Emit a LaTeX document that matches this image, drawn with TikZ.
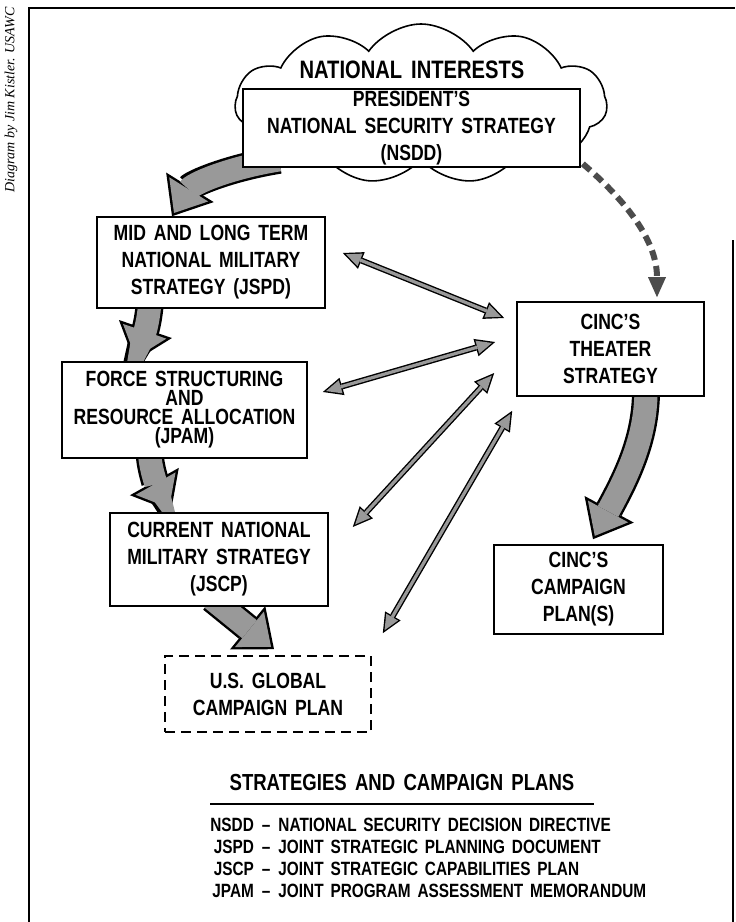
\documentclass[tikz,border=0pt]{standalone}
\usepackage{fontspec}
\setmainfont{Liberation Sans}[FakeStretch=0.8, WordSpace=1.6]
\newfontfamily\creditfont{Liberation Serif}
\usetikzlibrary{shapes.symbols, arrows.meta}
\pgfdeclarelayer{cloudlayer}
\pgfdeclarelayer{back}
\pgfsetlayers{cloudlayer,back,main}
\tikzstyle{block} = [rectangle, draw, line width=0.8pt, fill=white, align=center, inner sep=0pt, font=\bfseries\fontsize{11}{13.5}\selectfont]
\tikzstyle{dblock} = [block, dash pattern=on 5pt off 3pt]
\tikzstyle{fatout} = [draw=black, line width=14pt, -{Triangle[width=28pt,length=17pt,line width=0pt]}]
\tikzstyle{fatin} = [draw=black!40, line width=11.6pt, shorten >=1.9pt, -{Triangle[width=22.9pt,length=13.9pt,line width=0pt]}]
\tikzstyle{thinout} = [draw=black, line width=3pt, {Triangle[width=9pt,length=10pt,line width=0pt]}-{Triangle[width=9pt,length=10pt,line width=0pt]}]
\tikzstyle{thinin} = [draw=black!40, line width=1.6pt, shorten <=1.7pt, shorten >=1.7pt, {Triangle[width=6.8pt,length=7.6pt,line width=0pt]}-{Triangle[width=6.8pt,length=7.6pt,line width=0pt]}]
\tikzstyle{dashline} = [draw=black!70, line width=3pt, dash pattern=on 5pt off 3pt, -{Triangle[width=9pt,length=10pt,line width=0pt]}]

\begin{document}
\begin{tikzpicture}[x=0.5pt, y=-0.5pt]
\useasboundingbox (0,0) rectangle (735,922);

\draw[line width=1.2pt] (29,922) -- (29,8) -- (735,8);
\draw[line width=1.2pt] (733,240) -- (733,922);
\node[rotate=90, font=\creditfont\itshape\fontsize{7}{8}\selectfont] (credit) at (11,100) {Diagram by Jim Kistler. USAWC};

\begin{pgfonlayer}{cloudlayer}
\node[cloud, draw, line width=0.8pt, fill=white, cloud puffs=11, cloud puff arc=110, aspect=2.3, minimum width=186pt, minimum height=80pt] (cloud) at (421,104) {};
\end{pgfonlayer}
\node[font=\bfseries\fontsize{12.6}{14}\selectfont] (interests) at (412,70) {NATIONAL INTERESTS};

\node[block, minimum width=168.5pt, minimum height=39pt] (pres) at (411.5,128) {PRESIDENT'S\\NATIONAL SECURITY STRATEGY\\(NSDD)};
\node[block, minimum width=114pt, minimum height=45.5pt] (mid) at (211,262.5) {MID AND LONG TERM\\NATIONAL MILITARY\\STRATEGY (JSPD)};
\node[block, minimum width=122.5pt, minimum height=48pt, font=\bfseries\fontsize{11}{9.5}\selectfont] (force) at (184.5,410) {FORCE STRUCTURING\\AND\\RESOURCE ALLOCATION\\(JPAM)};
\node[block, minimum width=109pt, minimum height=46.5pt] (current) at (219,559.5) {CURRENT NATIONAL\\MILITARY STRATEGY\\(JSCP)};
\node[dblock, minimum width=103pt, minimum height=38pt] (global) at (268,694) {U.S. GLOBAL\\CAMPAIGN PLAN};
\node[block, minimum width=93.5pt, minimum height=47pt] (theater) at (610.5,349) {CINC'S\\THEATER\\STRATEGY};
\node[block, minimum width=84.5pt, minimum height=44.5pt] (campaign) at (578.5,589.5) {CINC'S\\CAMPAIGN\\PLAN(S)};

\begin{pgfonlayer}{back}
\foreach \pass in {fatout, fatin} {
\draw[\pass] ([shift={(37,-8)}]pres.south west) .. controls (228,168) and (192,184) .. ([shift={(-39,0)}]mid.north);
\draw[\pass] ([shift={(-61,-8)}]mid.south) .. controls (148,330) and (140,345) .. ([shift={(-50,0)}]force.north);
\draw[\pass] ([shift={(-35,-8)}]force.south) .. controls (150,470) and (158,488) .. ([shift={(-48,-1)}]current.north);
\draw[\pass] ([shift={(-7,-8)}]current.south) -- ([shift={(6,-6)}]global.north);
\draw[\pass] ([shift={(35.5,-6)}]theater.south) .. controls (646,440) and (625,480) .. ([shift={(14.5,-5)}]campaign.north);
}
\draw[dashline] ([shift={(2,-4)}]pres.south east) .. controls (625,200) and (657,240) .. ([shift={(46.5,-4)}]theater.north);
\end{pgfonlayer}

\foreach \pass in {thinout, thinin} {
\draw[\pass] ([shift={(17,-9.5)}]mid.east) -- ([shift={(-12,-31)}]theater.west);
\draw[\pass] ([shift={(15,-18)}]force.east) -- ([shift={(-21,-7)}]theater.west);
\draw[\pass] ([shift={(24,-32.5)}]current.east) -- ([shift={(-22,24)}]theater.west);
\draw[\pass] ([shift={(11,-22)}]global.north east) -- ([shift={(-4,14)}]theater.south west);
}

\node[font=\bfseries\fontsize{11.6}{14}\selectfont] (title) at (402,783) {STRATEGIES AND CAMPAIGN PLANS};
\draw[line width=1pt] (210,804) -- (594,804);
\node[anchor=north west, inner sep=0pt, font=\bfseries\fontsize{9.6}{11}\selectfont] (legend) at (210,816) {\begin{tabular}{@{}r@{\hspace{4pt}--\hspace{4pt}}l@{}}
NSDD & NATIONAL SECURITY DECISION DIRECTIVE\\
JSPD & JOINT STRATEGIC PLANNING DOCUMENT\\
JSCP & JOINT STRATEGIC CAPABILITIES PLAN\\
JPAM & JOINT PROGRAM ASSESSMENT MEMORANDUM
\end{tabular}};
\end{tikzpicture}
\end{document}
